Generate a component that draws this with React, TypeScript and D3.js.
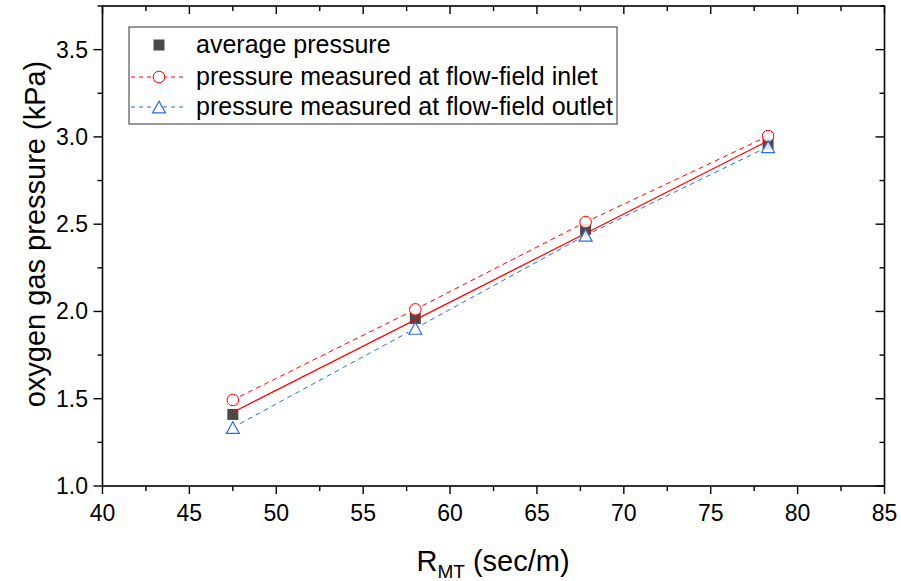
import React from "react";
import * as d3 from "d3";

const rmt = [47.5, 58.0, 67.8, 78.3];
const avgPressure = [1.41, 1.96, 2.47, 2.96];
const inletPressure = [1.493, 2.012, 2.512, 3.005];
const outletPressure = [1.335, 1.903, 2.436, 2.944];
const xTicks = [40, 45, 50, 55, 60, 65, 70, 75, 80, 85];
const yTicks = [1.0, 1.5, 2.0, 2.5, 3.0, 3.5];
const legendLabels = [
  "average pressure",
  "pressure measured at flow-field inlet",
  "pressure measured at flow-field outlet",
];

const W = 901;
const H = 581;
const FONT = "'Liberation Sans', Arial, sans-serif";
const RED = "#ff0000";
const BLUE = "#2a6fdc";
const GRAY = "#4a4a4a";

export default function App() {
  const x = d3.scaleLinear().domain([40, 85]).range([102.5, 884.5]);
  const y = d3.scaleLinear().domain([1.0, 3.75]).range([486, 6]);
  const [x0, x1] = x.range();
  const [y0, y1] = y.range();

  const xMinor = d3.range(40, 85.01, 2.5);
  const yMinor = d3.range(1.0, 3.751, 0.25);
  const isMajorX = (v: number) => Math.abs(v / 5 - Math.round(v / 5)) < 1e-6;
  const isMajorY = (v: number) => Math.abs(v / 0.5 - Math.round(v / 0.5)) < 1e-6;

  // linear fit of average pressure
  const mx = d3.mean(rmt)!;
  const my = d3.mean(avgPressure)!;
  const sxy = d3.sum(rmt.map((v, i) => (v - mx) * (avgPressure[i] - my)));
  const sxx = d3.sum(rmt.map((v) => (v - mx) * (v - mx)));
  const slope = sxy / sxx;
  const icpt = my - slope * mx;
  const fitX = [rmt[0], rmt[rmt.length - 1]];

  const gapSegments = (vals: number[], gap: number) => {
    const segs: string[] = [];
    for (let i = 0; i < vals.length - 1; i++) {
      const ax = x(rmt[i]), ay = y(vals[i]);
      const bx = x(rmt[i + 1]), by = y(vals[i + 1]);
      const dx = bx - ax, dy = by - ay;
      const len = Math.hypot(dx, dy);
      const ux = dx / len, uy = dy / len;
      segs.push(
        `M${ax + ux * gap},${ay + uy * gap}L${bx - ux * gap},${by - uy * gap}`
      );
    }
    return segs;
  };

  const tri = (cx: number, cy: number, s: number) => {
    const h = s * 0.9;
    return `M${cx},${cy - h / 2}L${cx + s / 2},${cy + h / 2}L${cx - s / 2},${cy + h / 2}Z`;
  };

  const legX = 129, legY = 27, legW = 488, legH = 97;
  const rows = [45, 77, 107];
  const legMarkX = 159;

  return (
    <svg
      width={W}
      height={H}
      style={{ position: "absolute", left: 0, top: 0, background: "#fff" }}
      fontFamily={FONT}
    >
      <rect x={0} y={0} width={W} height={H} fill="#fff" />
      {/* data lines */}
      {gapSegments(inletPressure, 8).map((d, i) => (
        <path key={"in" + i} d={d} stroke={RED} strokeWidth={1} strokeDasharray="5,4" fill="none" />
      ))}
      {gapSegments(outletPressure, 8).map((d, i) => (
        <path key={"out" + i} d={d} stroke={BLUE} strokeWidth={1} strokeDasharray="5,4" fill="none" />
      ))}
      {/* average squares */}
      {rmt.map((v, i) => (
        <rect key={"sq" + i} x={x(v) - 5.5} y={y(avgPressure[i]) - 5.5} width={11} height={11} fill={GRAY} />
      ))}
      {/* fit line */}
      <line
        x1={x(fitX[0])}
        y1={y(icpt + slope * fitX[0])}
        x2={x(fitX[1])}
        y2={y(icpt + slope * fitX[1])}
        stroke={RED}
        strokeWidth={1.2}
      />
      {rmt.map((v, i) => (
        <circle key={"c" + i} cx={x(v)} cy={y(inletPressure[i])} r={5.8} fill="#fff" fillOpacity={0.85} stroke={RED} strokeWidth={1} />
      ))}
      {rmt.map((v, i) => (
        <path key={"t" + i} d={tri(x(v), y(outletPressure[i]), 13)} fill="#fff" fillOpacity={0.85} stroke={BLUE} strokeWidth={1.2} />
      ))}

      {/* frame */}
      <rect x={x0} y={y1} width={x1 - x0} height={y0 - y1} fill="none" stroke="#000" strokeWidth={1.6} />
      {xMinor.map((v) => {
        const len = isMajorX(v) ? 8 : 5;
        return (
          <g key={"xt" + v}>
            <line x1={x(v)} x2={x(v)} y1={y0} y2={y0 + len} stroke="#000" strokeWidth={1.4} />
            <line x1={x(v)} x2={x(v)} y1={y1} y2={y1 + len} stroke="#000" strokeWidth={1.4} />
          </g>
        );
      })}
      {yMinor.map((v) => {
        const len = isMajorY(v) ? 9 : 5;
        return (
          <g key={"yt" + v}>
            <line x1={x0} x2={x0 - len} y1={y(v)} y2={y(v)} stroke="#000" strokeWidth={1.4} />
            <line x1={x1} x2={x1 - len} y1={y(v)} y2={y(v)} stroke="#000" strokeWidth={1.4} />
          </g>
        );
      })}
      {xTicks.map((v) => (
        <text key={"xl" + v} x={x(v)} y={521} fontSize={23} textAnchor="middle" fill="#000">
          {v}
        </text>
      ))}
      {yTicks.map((v) => (
        <text key={"yl" + v} x={88} y={y(v) + 8} fontSize={23} textAnchor="end" fill="#000">
          {v.toFixed(1)}
        </text>
      ))}
      {/* axis titles */}
      <text x={493} y={571} fontSize={29} textAnchor="middle" fill="#000">
        R<tspan fontSize={19} dy={7}>MT</tspan>
        <tspan dy={-7}> (sec/m)</tspan>
      </text>
      <text
        transform={`translate(45,234) rotate(-90)`}
        fontSize={29}
        textAnchor="middle"
        fill="#000"
      >
        oxygen gas pressure (kPa)
      </text>

      {/* legend */}
      <rect x={legX} y={legY} width={legW} height={legH} fill="#fff" stroke="#333" strokeWidth={1} />
      <rect x={legMarkX - 5.5} y={rows[0] - 5.5} width={11} height={11} fill={GRAY} />
      <line x1={131} x2={185} y1={rows[1]} y2={rows[1]} stroke={RED} strokeWidth={1} strokeDasharray="4,4" />
      <circle cx={legMarkX} cy={rows[1]} r={5.8} fill="#fff" stroke={RED} strokeWidth={1} />
      <line x1={131} x2={185} y1={rows[2]} y2={rows[2]} stroke={BLUE} strokeWidth={1} strokeDasharray="4,4" />
      <path d={tri(legMarkX, rows[2], 13)} fill="#fff" stroke={BLUE} strokeWidth={1.2} />
      {legendLabels.map((t, i) => (
        <text key={t} x={196} y={rows[i] + 8} fontSize={25} fill="#000">
          {t}
        </text>
      ))}
    </svg>
  );
}
